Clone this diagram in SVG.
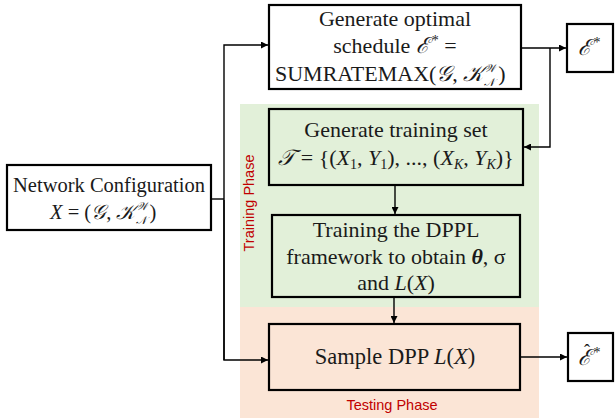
<svg xmlns="http://www.w3.org/2000/svg" width="615" height="418" viewBox="0 0 615 418">
<defs>
<marker id="ah" viewBox="0 0 10 10" refX="10" refY="5" markerWidth="7" markerHeight="7" markerUnits="userSpaceOnUse" orient="auto">
<path d="M0,0 L10,5 L0,10 z" fill="#000"/>
</marker>
<style>
.box{stroke:#000;stroke-width:2.2;}
.t{font-family:"Liberation Serif","DejaVu Serif",serif;font-size:22px;fill:#1a1a1a;}
.n{font-size:20.5px;}
.m{font-family:"Liberation Serif","DejaVu Serif",serif;font-style:italic;}
.s{font-size:14px;}
.ss{font-size:11px;}
.c{stroke:#000;stroke-width:1.4;fill:none;}
.ph{font-family:"Liberation Sans",Arial,sans-serif;font-size:14.5px;fill:#c00000;}
</style>
</defs>
<rect x="240" y="104" width="299" height="203" fill="#e2f0d9"/>
<rect x="240" y="307" width="299" height="111" fill="#fbe5d6"/>
<text class="ph" x="392" y="410" text-anchor="middle">Testing Phase</text>
<text class="ph" transform="translate(254,203) rotate(-90)" text-anchor="middle">Training Phase</text>
<g id="connectors">
<polyline class="c" points="211,199 224,199"/>
<polyline class="c" points="224,360 224,45 268,45" marker-end="url(#ah)"/>
<polyline class="c" points="224,200 224,360 268,360" marker-end="url(#ah)"/>
<polyline class="c" points="521,48 566,48" marker-end="url(#ah)"/>
<polyline class="c" points="550,48 550,147 524,147" marker-end="url(#ah)"/>
<polyline class="c" points="395,185 395,214" marker-end="url(#ah)"/>
<polyline class="c" points="394,297 394,323" marker-end="url(#ah)"/>
<polyline class="c" points="520,357 567,357" marker-end="url(#ah)"/>
</g>
<g id="network">
<rect class="box" x="7" y="165" width="204" height="65" fill="#fff"/>
<text class="t n" x="109" y="192" text-anchor="middle">Network Configuration</text>
<text class="t n" x="50" y="219"><tspan class="m">X</tspan> = (<tspan class="m">𝒢</tspan>, <tspan class="m">𝒦</tspan><tspan class="ss m" dy="-9" dx="1">𝒲</tspan><tspan class="ss m" dy="14" dx="-12">𝒩</tspan><tspan dy="-5" dx="2">)</tspan></text>
</g>
<g id="optimal">
<rect class="box" x="269" y="5" width="252" height="84" fill="#fff"/>
<text class="t" x="395" y="26" text-anchor="middle">Generate optimal</text>
<text class="t" x="395" y="53" text-anchor="middle">schedule <tspan class="m">ℰ</tspan><tspan class="s" dy="-8" dx="3">*</tspan><tspan dy="8"> =</tspan></text>
<text class="t" x="275" y="81">SUMRATEMAX(<tspan class="m">𝒢</tspan>, <tspan class="m">𝒦</tspan><tspan class="ss m" dy="-9" dx="1">𝒲</tspan><tspan class="ss m" dy="14" dx="-12">𝒩</tspan><tspan dy="-5" dx="3">)</tspan></text>
</g>
<g id="estar">
<rect class="box" x="567" y="24" width="46" height="48" fill="#fff"/>
<text class="t" x="589" y="55" text-anchor="middle"><tspan class="m">ℰ</tspan><tspan class="s" dy="-8" dx="3">*</tspan></text>
</g>
<g id="trainset">
<rect class="box" x="269" y="109" width="254" height="76" fill="#e2f0d9"/>
<text class="t" x="396" y="137" text-anchor="middle">Generate training set</text>
<text class="t" x="396" y="165" text-anchor="middle"><tspan class="m">𝒯</tspan> = {(<tspan class="m">X</tspan><tspan class="s" dy="4">1</tspan><tspan dy="-4">, </tspan><tspan class="m">Y</tspan><tspan class="s" dy="4">1</tspan><tspan dy="-4">), ..., (</tspan><tspan class="m">X</tspan><tspan class="s m" dy="4">K</tspan><tspan dy="-4">, </tspan><tspan class="m">Y</tspan><tspan class="s m" dy="4">K</tspan><tspan dy="-4">)}</tspan></text>
</g>
<g id="dppl">
<rect class="box" x="272" y="215" width="248" height="82" fill="#e2f0d9"/>
<text class="t" x="396" y="237" text-anchor="middle">Training the DPPL</text>
<text class="t" x="396" y="264" text-anchor="middle">framework to obtain <tspan class="m" font-weight="bold">θ</tspan>, σ</text>
<text class="t" x="396" y="290" text-anchor="middle">and <tspan class="m">L</tspan>(<tspan class="m">X</tspan>)</text>
</g>
<g id="sample">
<rect class="box" x="269" y="324" width="251" height="66" fill="#fbe5d6"/>
<text class="t" x="395" y="364" text-anchor="middle" style="font-size:22.5px">Sample DPP <tspan class="m">L</tspan>(<tspan class="m">X</tspan>)</text>
</g>
<g id="ehat">
<rect class="box" x="568" y="333" width="45" height="48" fill="#fff"/>
<text class="t" x="589" y="365" text-anchor="middle"><tspan class="m">ℰ</tspan><tspan class="s" dy="-8" dx="3">*</tspan><tspan x="587" y="357" style="font-size:18px">ˆ</tspan></text>
</g>
</svg>
